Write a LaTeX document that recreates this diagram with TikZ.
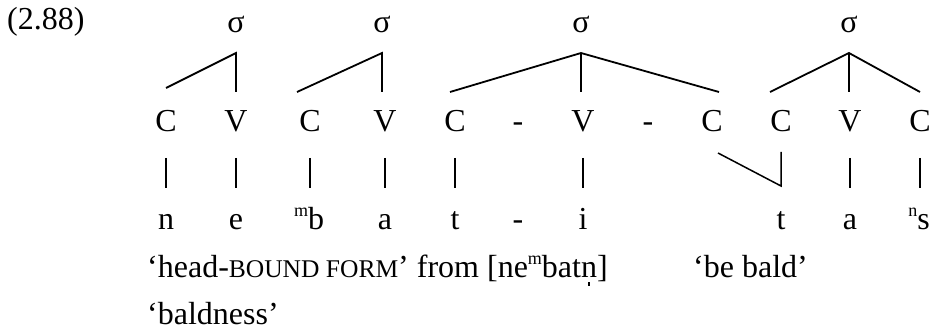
\documentclass[tikz,border=0pt]{standalone}
\usepackage{fontspec}
\setmainfont{Liberation Serif}
\tikzset{
  lbl/.style={anchor=base, inner sep=0pt, font=\fontsize{32}{38}\selectfont},
  tree/.style={line width=1.8pt},
  assoc/.style={line width=1.2pt},
}
\newcommand{\supx}[1]{\raisebox{0.42em}{\fontsize{18}{18}\selectfont #1}}
\newcommand{\smcp}[1]{{\fontsize{25.5}{30}\selectfont #1}}
\newcommand{\syln}{\ooalign{n\cr\hidewidth\rule[-0.24em]{0.045em}{0.13em}\hidewidth\cr}}
\begin{document}
\begin{tikzpicture}[x=1pt,y=-1pt]
\useasboundingbox (0,0) rectangle (935,331);
% label
\node[lbl, anchor=base west] (num) at (7,30) {(2.88)};
% sigma nodes
\node[lbl] (s1) at (236,33) {σ};
\node[lbl] (s2) at (382,33) {σ};
\node[lbl] (s3) at (581,33) {σ};
\node[lbl] (s4) at (849,33) {σ};
% CV tier
\node[lbl] (C1) at (166,132) {C};
\node[lbl] (V1) at (236,132) {V};
\node[lbl] (C2) at (310,132) {C};
\node[lbl] (V2) at (385,132) {V};
\node[lbl] (C3) at (455,132) {C};
\node[lbl] (d1) at (518,132) {-};
\node[lbl] (V3) at (583,132) {V};
\node[lbl] (d2) at (648,132) {-};
\node[lbl] (C4) at (712,132) {C};
\node[lbl] (C5) at (781,132) {C};
\node[lbl] (V4) at (850,132) {V};
\node[lbl] (C6) at (920,132) {C};
% segments
\node[lbl] (n1) at (166,230) {n};
\node[lbl] (e1) at (236,230) {e};
\node[lbl] (b1) at (309,230) {\supx{m}b};
\node[lbl] (a1) at (385,230) {a};
\node[lbl] (t1) at (455,230) {t};
\node[lbl] (d3) at (518,230) {-};
\node[lbl] (i1) at (583,230) {i};
\node[lbl] (t2) at (781,230) {t};
\node[lbl] (a2) at (850,230) {a};
\node[lbl] (s5) at (919,230) {\supx{n}s};
% glosses
\node[lbl, anchor=base west] (g1) at (147,278) {‘head-\smcp{BOUND FORM}’ from [ne\supx{m}bat\syln]};
\node[lbl, anchor=base west] (g2) at (693,278) {‘be bald’};
\node[lbl, anchor=base west] (g3) at (147,324) {‘baldness’};
% tree coordinates
\coordinate (p1) at (236,53);
\coordinate (p2) at (382,53);
\coordinate (p3) at (581,53);
\coordinate (p4) at (849,53);
\coordinate (c1t) at (166,88);
\coordinate (v1t) at (236,92);
\coordinate (c2t) at (297,92);
\coordinate (v2t) at (382,92);
\coordinate (c3t) at (450,92);
\coordinate (v3t) at (581,92);
\coordinate (c4t) at (719,92);
\coordinate (c5t) at (770,92);
\coordinate (v4t) at (849,92);
\coordinate (c6t) at (920,92);
\draw[tree] (c1t) -- (p1) -- (v1t);
\draw[tree] (c2t) -- (p2) -- (v2t);
\draw[tree] (c3t) -- (p3) -- (c4t);
\draw[tree] (p3) -- (v3t);
\draw[tree] (c5t) -- (p4) -- (c6t);
\draw[tree] (p4) -- (v4t);
% association lines
\foreach \x/\nm in {166/A,236/B,310/C,385/D,455/E,583/F,850/G,920/H}{
  \coordinate (u\nm) at (\x,158);
  \coordinate (l\nm) at (\x,188);
  \draw[assoc] (u\nm) -- (l\nm);
}
\coordinate (c4b) at (718,153);
\coordinate (tk) at (781,186);
\coordinate (c5b) at (781,152);
\draw[line width=1.5pt] (c4b) -- (tk) -- (c5b);
\end{tikzpicture}
\end{document}
